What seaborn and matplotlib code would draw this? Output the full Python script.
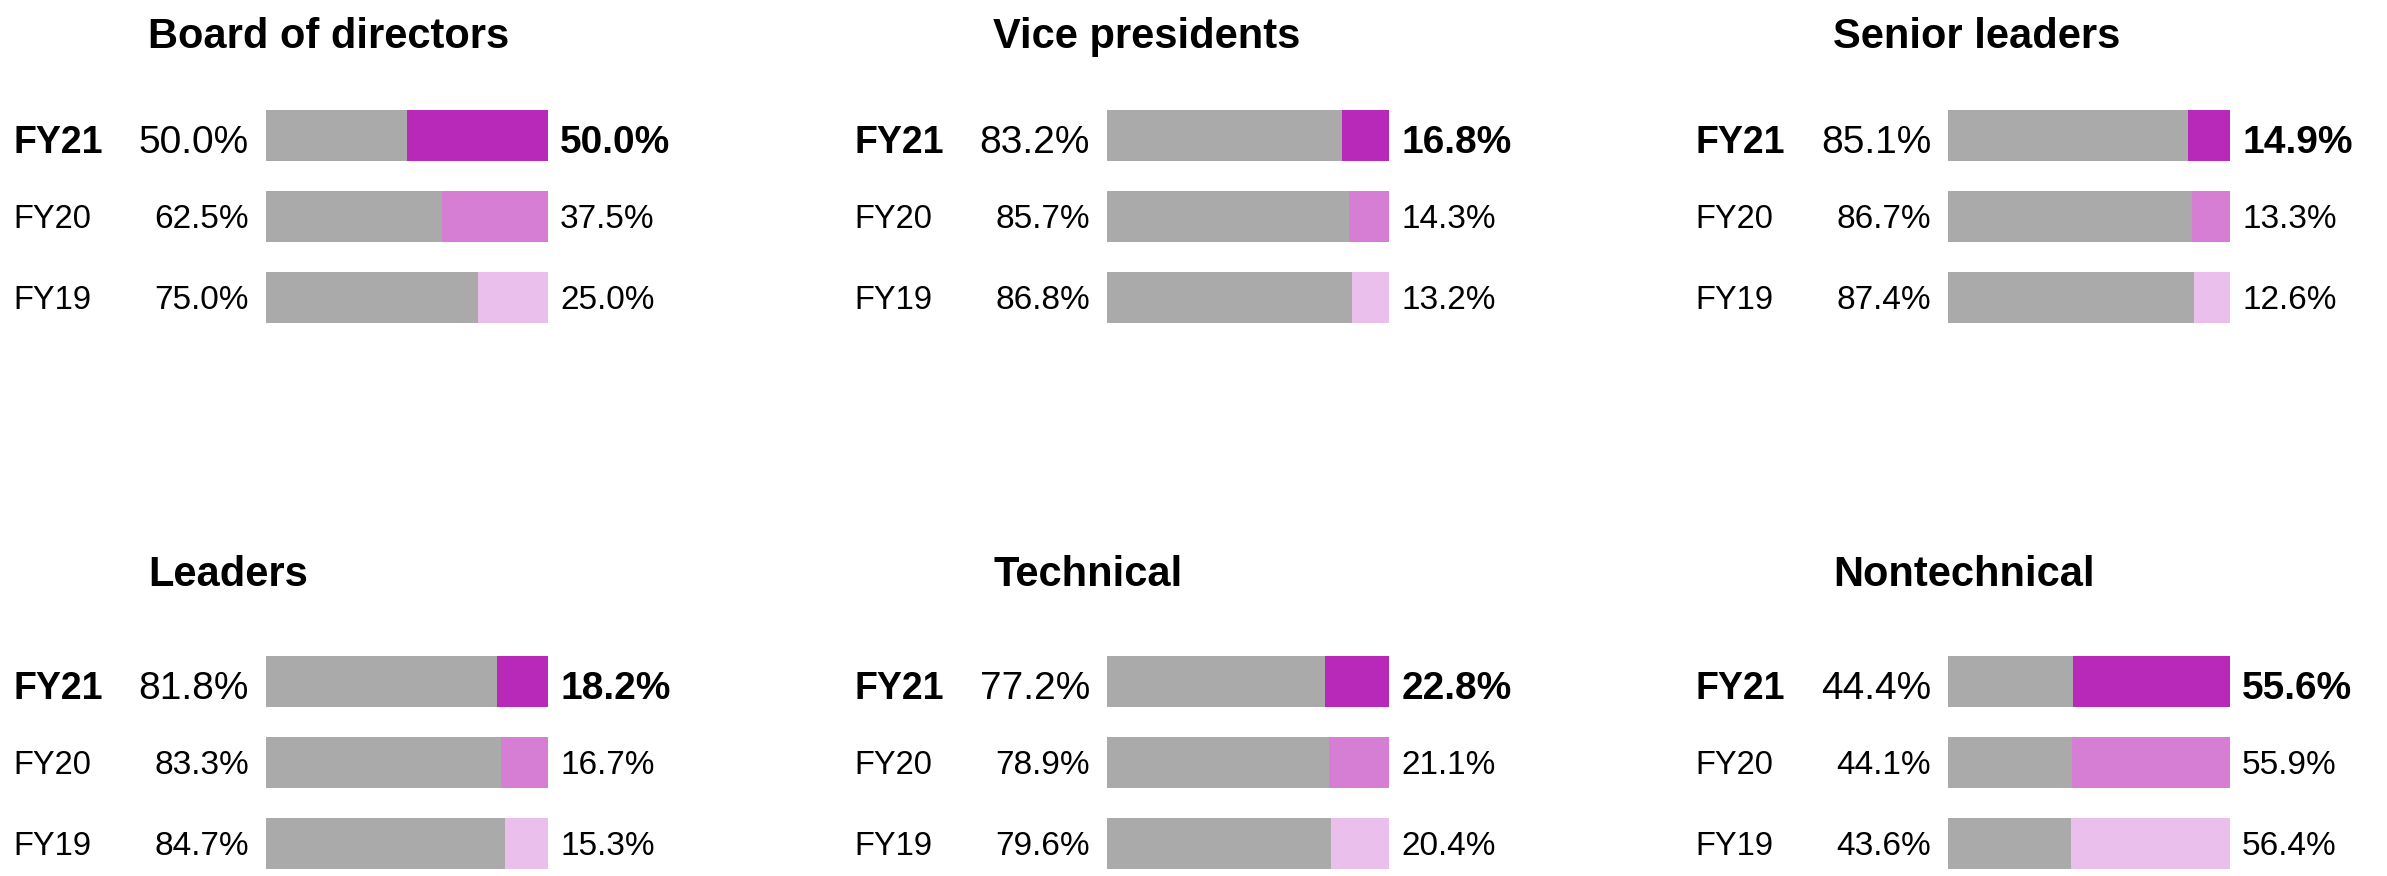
import pandas as pd
import matplotlib.pyplot as plt
import seaborn as sns

# Share of men / women per group, rows are FY21, FY20, FY19
groups = ['Board of directors', 'Vice presidents', 'Senior leaders',
          'Leaders', 'Technical', 'Nontechnical']
years = ['FY21', 'FY20', 'FY19']
men_share = [
    [50.0, 62.5, 75.0],
    [83.2, 85.7, 86.8],
    [85.1, 86.7, 87.4],
    [81.8, 83.3, 84.7],
    [77.2, 78.9, 79.6],
    [44.4, 44.1, 43.6],
]
women_share = [
    [50.0, 37.5, 25.0],
    [16.8, 14.3, 13.2],
    [14.9, 13.3, 12.6],
    [18.2, 16.7, 15.3],
    [22.8, 21.1, 20.4],
    [55.6, 55.9, 56.4],
]

grey = '#aaaaaa'
year_colors = {'FY21': '#b929b9', 'FY20': '#d67dd4', 'FY19': '#ebbfeb'}

sns.set_style('white')
plt.rcParams['font.family'] = ['Liberation Sans', 'DejaVu Sans']
plt.rcParams['text.color'] = 'black'

W, H = 2387, 876
fig = plt.figure(figsize=(W / 100, H / 100), dpi=100)

# Pixel layout of the bar areas
col_left = [266, 1107, 1948]
bar_w = 282
row_top = [110, 656]
row_h = 213
title_x = [148, 993, 1833]
title_base = [48, 586]
bw = 0.63

for k, name in enumerate(groups):
    r, c = divmod(k, 3)
    ax = fig.add_axes([col_left[c] / W, (H - row_top[r] - row_h) / H,
                       bar_w / W, row_h / H])
    df = pd.DataFrame({
        'year': years,
        'men': men_share[k],
        'total': [m + w for m, w in zip(men_share[k], women_share[k])],
    })
    sns.barplot(data=df, x='total', y='year', hue='year', palette=year_colors,
                orient='h', width=bw, saturation=1, legend=False, linewidth=0, ax=ax)
    sns.barplot(data=df, x='men', y='year', color=grey,
                orient='h', width=bw, saturation=1, linewidth=0, ax=ax)
    ax.set_xlim(0, 100)
    ax.set_ylim(2 + bw / 2, -bw / 2)
    ax.axis('off')

    for i, yr in enumerate(years):
        latest = yr == 'FY21'
        fs_lab = 27 if latest else 23.5
        fs_val = 28 if latest else 24
        wt = 'bold' if latest else 'normal'
        yb = i + (0.21 if latest else 0.14)
        ax.text(-89.5, yb, yr, ha='left', va='baseline', fontsize=fs_lab,
                fontweight=wt, clip_on=False)
        ax.text(-6.0, yb, f'{men_share[k][i]:.1f}%', ha='right', va='baseline',
                fontsize=fs_val, clip_on=False)
        ax.text(104.3, yb, f'{women_share[k][i]:.1f}%', ha='left', va='baseline',
                fontsize=fs_val, fontweight=wt, clip_on=False)

    fig.text(title_x[c] / W, 1 - title_base[r] / H, name, ha='left', va='baseline',
             fontsize=30, fontweight='bold')

fig.savefig('out.png', dpi=100, facecolor='white')
